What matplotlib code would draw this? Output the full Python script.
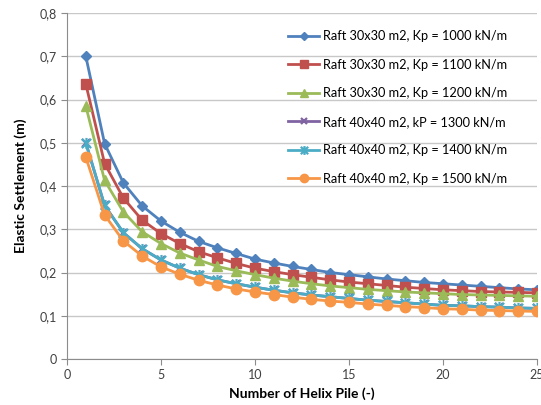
import matplotlib
matplotlib.use("Agg")
import matplotlib.pyplot as plt
from matplotlib.path import Path
from matplotlib.ticker import FuncFormatter

plt.rcParams['font.family'] = ['Lato', 'DejaVu Sans']

piles = list(range(1, 26))
kp1000 = [0.700, 0.498, 0.407, 0.354, 0.319, 0.293, 0.272, 0.257, 0.244, 0.231,
          0.222, 0.214, 0.207, 0.200, 0.195, 0.190, 0.185, 0.181, 0.177, 0.174,
          0.171, 0.168, 0.165, 0.162, 0.160]
kp1100 = [0.636, 0.452, 0.372, 0.321, 0.290, 0.267, 0.248, 0.234, 0.221, 0.210,
          0.202, 0.195, 0.189, 0.183, 0.178, 0.174, 0.170, 0.166, 0.163, 0.160,
          0.158, 0.156, 0.155, 0.154, 0.153]
kp1200 = [0.585, 0.413, 0.340, 0.294, 0.267, 0.245, 0.229, 0.214, 0.204, 0.195,
          0.187, 0.180, 0.174, 0.169, 0.165, 0.161, 0.158, 0.155, 0.153, 0.151,
          0.149, 0.148, 0.147, 0.146, 0.145]
kp1300 = [0.500, 0.355, 0.292, 0.255, 0.229, 0.210, 0.195, 0.183, 0.174, 0.166,
          0.159, 0.153, 0.148, 0.144, 0.140, 0.136, 0.133, 0.130, 0.127, 0.124,
          0.123, 0.121, 0.120, 0.118, 0.117]
kp1400 = [0.500, 0.355, 0.292, 0.255, 0.229, 0.210, 0.195, 0.183, 0.174, 0.166,
          0.159, 0.153, 0.148, 0.144, 0.140, 0.136, 0.133, 0.130, 0.127, 0.124,
          0.123, 0.121, 0.120, 0.118, 0.117]
kp1500 = [0.467, 0.333, 0.273, 0.238, 0.213, 0.196, 0.182, 0.171, 0.162, 0.155,
          0.149, 0.143, 0.138, 0.134, 0.131, 0.127, 0.124, 0.121, 0.119, 0.116,
          0.115, 0.113, 0.112, 0.111, 0.110]

labels = ["Raft 30x30 m2, Kp = 1000 kN/m",
          "Raft 30x30 m2, Kp = 1100 kN/m",
          "Raft 30x30 m2, Kp = 1200 kN/m",
          "Raft 40x40 m2, kP = 1300 kN/m",
          "Raft 40x40 m2, Kp = 1400 kN/m",
          "Raft 40x40 m2, Kp = 1500 kN/m"]

# excel style star: an x with a vertical bar through it
star = Path([(-1, -1), (1, 1), (-1, 1), (1, -1), (0, -1.2), (0, 1.2)],
            [Path.MOVETO, Path.LINETO, Path.MOVETO, Path.LINETO, Path.MOVETO, Path.LINETO])

fig = plt.figure(figsize=(5.41, 4.05), dpi=100)
ax = fig.add_axes([67/541, 1-359/405, 470/541, 346/405])

# (values, colour, marker, size)
series = [
    (kp1000, "#4F81BD", "D", 5.5),
    (kp1100, "#C0504D", "s", 7),
    (kp1200, "#9BBB59", "^", 7.5),
    (kp1300, "#8064A2", "x", 6),
    (kp1400, "#4BACC6", star, 8),
    (kp1500, "#F79646", "o", 7.5),
]
for (vals, col, mk, ms), lab in zip(series, labels):
    thin = mk in ("x",) or mk is star
    ax.plot(piles, vals, color=col, marker=mk, markersize=ms, lw=2,
            markeredgecolor=col, markeredgewidth=1.6 if thin else 1,
            label=lab)

ax.set_xlim(0, 25)
ax.set_ylim(0, 0.8)
ax.set_xticks([0, 5, 10, 15, 20, 25])
ax.set_yticks([i / 10 for i in range(9)])
ax.yaxis.set_major_formatter(FuncFormatter(lambda v, p: "0" if v == 0 else f"{v:.1f}".replace(".", ",")))
ax.grid(axis="y", color="#C8C8C8", lw=1)
ax.set_axisbelow(True)
for s in ("top", "right"):
    ax.spines[s].set_visible(False)
for s in ("left", "bottom"):
    ax.spines[s].set_color("#8C8C8C")
ax.tick_params(colors="#8C8C8C", labelcolor="#404040", labelsize=9, length=4)

ax.set_xlabel("Number of Helix Pile (-)", fontsize=10, fontweight="bold", labelpad=4)
ax.set_ylabel("Elastic Settlement (m)", fontsize=10, fontweight="bold", labelpad=9)

leg = ax.legend(loc="upper left", bbox_to_anchor=(0.46, 0.965), frameon=False,
                fontsize=9.2, handlelength=2.4, handletextpad=0.3, labelspacing=1.29,
                borderaxespad=0, markerscale=0.8)

fig.savefig("out.png", dpi=100)
